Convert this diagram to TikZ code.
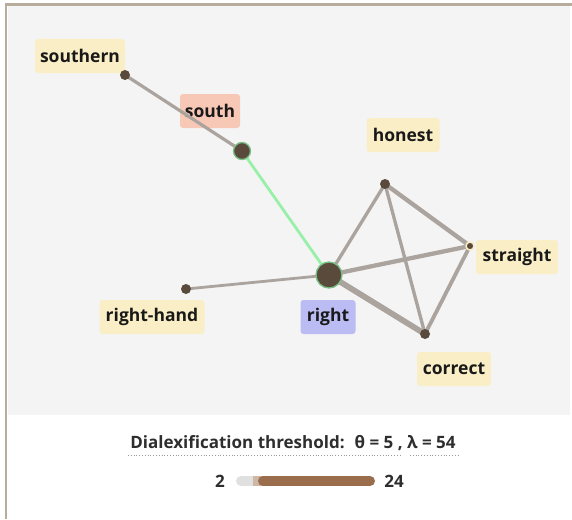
\documentclass[tikz,border=0pt]{standalone}
\usepackage{fontspec}
\setmainfont{Open Sans}
\begin{document}
\begin{tikzpicture}[x=1pt,y=-1pt,
  lbl/.style={rounded corners=3pt, fill=lblyel, inner sep=0pt, minimum height=34pt, font=\bfseries\fontsize{17.5}{20}\selectfont, text=black!90},
  dot/.style={circle, fill=dotbrown, inner sep=0pt, minimum size=10pt},
  edge/.style={draw=edgegray, line cap=round},
  ctl/.style={font=\bfseries\fontsize{17}{19}\selectfont, text=black!82, inner sep=0pt}
]
\definecolor{lblyel}{HTML}{FAEEC6}
\definecolor{dotbrown}{HTML}{5A4A3C}
\definecolor{edgegray}{HTML}{ABA39D}
\definecolor{panel}{HTML}{F4F4F4}
\definecolor{frame}{HTML}{B8AC9C}
\definecolor{greenln}{HTML}{98F0A8}
\definecolor{salmon}{HTML}{F8C8B6}
\definecolor{lav}{HTML}{BCBCF4}
\definecolor{sliderbrown}{HTML}{9A6E4C}
\useasboundingbox (0,0) rectangle (572,519);
\fill[white] (0,0) rectangle (572,519);
\fill[panel] (8,6) rectangle (570,415);
\draw[frame, line width=2.5pt] (6,519) -- (6,4.5) -- (572,4.5);
% labels
\node[lbl, minimum width=90pt] (Lsouthern) at (80,56) {southern};
\node[lbl, minimum width=60pt, fill=salmon] (Lsouth) at (210,111) {south};
\node[lbl, minimum width=73pt] (Lhonest) at (403,135) {honest};
\node[lbl, minimum width=82pt] (Lstraight) at (517,257) {straight};
\node[lbl, minimum width=55pt, fill=lav] (Lright) at (328,317) {right};
\node[lbl, minimum width=105pt] (Lrighthand) at (152,317) {right-hand};
\node[lbl, minimum width=74pt] (Lcorrect) at (454,369) {correct};
% dots (coordinates)
\coordinate (southern) at (125,75);
\coordinate (south) at (242,151);
\coordinate (honest) at (385,184);
\coordinate (straight) at (470,246);
\coordinate (right) at (329,275);
\coordinate (righthand) at (186,289);
\coordinate (correct) at (425,334);
% edges
\draw[edge, line width=3.2pt] (southern) -- (south);
\draw[greenln, line width=2.8pt] (south) -- (right);
\draw[edge, line width=2.8pt] (right) -- (righthand);
\draw[edge, line width=3.3pt] (right) -- (honest);
\draw[edge, line width=4.3pt] (right) -- (straight);
\draw[edge, line width=5.8pt] (right) -- (correct);
\draw[edge, line width=4.3pt] (honest) -- (straight);
\draw[edge, line width=3.3pt] (honest) -- (correct);
\draw[edge, line width=3.8pt] (straight) -- (correct);
% nodes
\node[dot] (Dsouthern) at (southern) {};
\node[dot, minimum size=17pt, draw=greenln!80!black, line width=1.3pt] (Dsouth) at (south) {};
\node[dot] (Dhonest) at (honest) {};
\node[dot, minimum size=8pt, draw=lblyel, line width=1.5pt] (Dstraight) at (straight) {};
\node[dot, minimum size=26pt, draw=greenln!80!black, line width=1.3pt] (Dright) at (right) {};
\node[dot] (Drighthand) at (righthand) {};
\node[dot] (Dcorrect) at (correct) {};
% bottom controls
\node[ctl] (title) at (293,443) {Dialexification threshold:\hspace{10pt}θ = 5 , λ = 54};
\draw[black!40, dotted, line width=0.8pt] (128,455) -- (402,455);
\draw[black!40, dotted, line width=0.8pt] (410,455) -- (458,455);
\node[ctl] (lo) at (220,481) {2};
\node[ctl] (hi) at (394,481) {24};
\draw[black!12, line width=10pt, line cap=round] (241,481) -- (258,481);
\fill[sliderbrown!50!white] (253,476) rectangle (263,486);
\draw[sliderbrown, line width=10pt, line cap=round] (263,481) -- (370,481);
\end{tikzpicture}
\end{document}
